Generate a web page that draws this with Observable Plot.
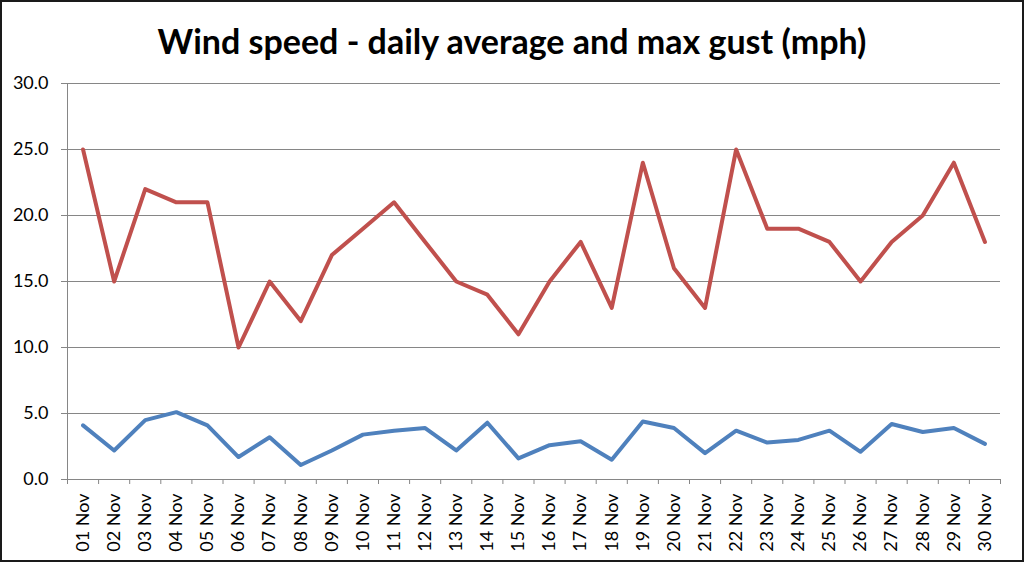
<!DOCTYPE html>
<html>
<head>
<meta charset="utf-8">
<script src="https://cdn.jsdelivr.net/npm/d3@7"></script>
<script src="https://cdn.jsdelivr.net/npm/@observablehq/plot@0.6"></script>
<style>
  html, body { margin: 0; padding: 0; background: #fff; }
  #wrap { position: relative; width: 1024px; height: 562px; overflow: hidden; background: #fff; }
  #frame { position: absolute; left: 0; top: 0; width: 1024px; height: 562px; box-sizing: border-box; border: 2px solid #1a1a1a; pointer-events: none; }
  #title { position: absolute; left: 0; top: 0; width: 1024px; height: 70px; text-align: center;
           font-family: Lato, "Open Sans", sans-serif; font-weight: 700; font-size: 34px; line-height: 82px; color: #000; }
  #chart { position: absolute; left: 0; top: 70px; }
</style>
</head>
<body>
<div id="wrap">
  <div id="title">Wind speed - daily average and max gust (mph)</div>
  <div id="chart"></div>
  <div id="frame"></div>
</div>
<script>
const days = ["01 Nov","02 Nov","03 Nov","04 Nov","05 Nov","06 Nov","07 Nov","08 Nov","09 Nov","10 Nov",
              "11 Nov","12 Nov","13 Nov","14 Nov","15 Nov","16 Nov","17 Nov","18 Nov","19 Nov","20 Nov",
              "21 Nov","22 Nov","23 Nov","24 Nov","25 Nov","26 Nov","27 Nov","28 Nov","29 Nov","30 Nov"];
const maxGust = [25,15,22,21,21,10,15,12,17,19,21,18,15,14,11,15,18,13,24,16,13,25,19,19,18,15,18,20,24,18];
const avgSpeed = [4.1,2.2,4.5,5.1,4.1,1.7,3.2,1.1,2.2,3.4,3.7,3.9,2.2,4.3,1.6,2.6,2.9,1.5,4.4,3.9,2.0,3.7,2.8,3.0,3.7,2.1,4.2,3.6,3.9,2.7];
const yTicks = [0,5,10,15,20,25,30];

const idx = days.map((d, i) => i + 1);
const bounds = [0.5, ...idx.map(i => i + 0.5)];
const gust = days.map((d, i) => ({i: i + 1, v: maxGust[i]}));
const avg = days.map((d, i) => ({i: i + 1, v: avgSpeed[i]}));

const chart = Plot.plot({
  width: 1024,
  height: 492,
  marginTop: 13,
  marginBottom: 83,
  marginLeft: 67,
  marginRight: 24,
  style: {fontFamily: "Lato, 'Open Sans', sans-serif", fontSize: "18px", color: "#000", background: "transparent"},
  x: {type: "linear", domain: [0.5, 30.5]},
  y: {domain: [0, 30]},
  marks: [
    Plot.gridY(yTicks, {stroke: "#868686", strokeOpacity: 1, strokeWidth: 1}),
    Plot.ruleX([0.5], {stroke: "#868686", strokeWidth: 1}),
    Plot.axisY(yTicks, {tickSize: 6, tickPadding: 13, tickFormat: d => d.toFixed(1), stroke: "#868686", fill: "#000", fontSize: 18, label: null}),
    Plot.axisX(bounds, {tickSize: 5, tickFormat: () => "", stroke: "#868686", label: null}),
    Plot.axisX(idx, {tickSize: 0, tickPadding: 14, tickRotate: -90, tickFormat: i => days[i - 1], fill: "#000", fontSize: 18, label: null}),
    Plot.line(gust, {x: "i", y: "v", stroke: "#C0504D", strokeWidth: 4, strokeLinejoin: "round", strokeLinecap: "round"}),
    Plot.line(avg, {x: "i", y: "v", stroke: "#4F81BD", strokeWidth: 4, strokeLinejoin: "round", strokeLinecap: "round"})
  ]
});
document.getElementById("chart").appendChild(chart);
</script>
</body>
</html>
